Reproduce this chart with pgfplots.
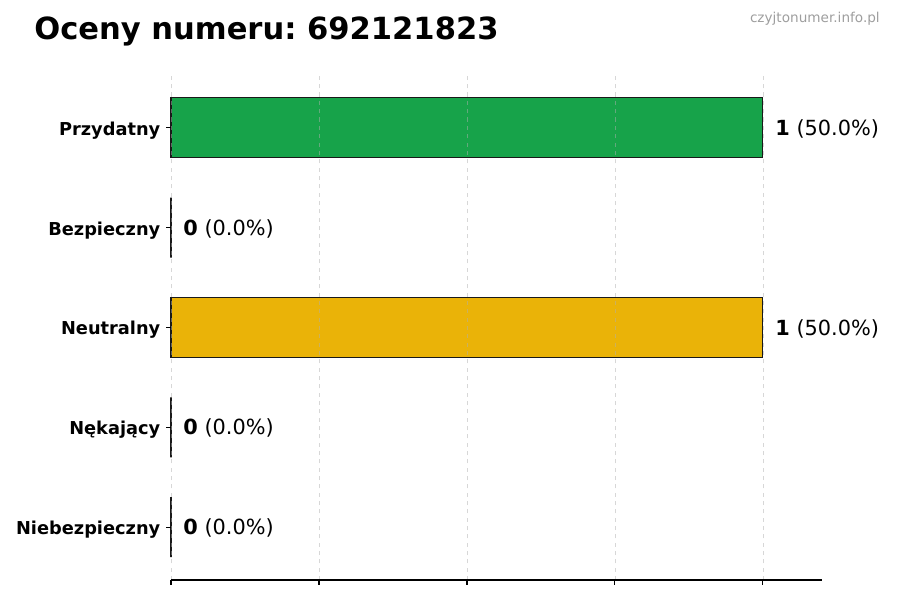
\documentclass[border=0pt]{standalone}
\usepackage{fontspec}
\setmainfont{DejaVu Sans}
\usepackage{pgfplots}
\pgfplotsset{compat=1.18}
\frenchspacing
\definecolor{cgreen}{RGB}{23,163,74}
\definecolor{cyellow}{RGB}{234,179,8}
\definecolor{cblue}{RGB}{59,130,246}
\definecolor{corange}{RGB}{249,115,22}
\definecolor{cred}{RGB}{220,38,38}
\definecolor{cgrid}{RGB}{176,176,176}
\begin{document}
\begin{tikzpicture}
\path[use as bounding box] (0pt,0pt) rectangle (648pt,432pt);
\begin{axis}[
  at={(123.1pt,14.4pt)}, anchor=south west,
  scale only axis, width=468.7pt, height=363.6pt,
  xbar, bar shift=0pt, bar width=43.2pt,
  xmin=0, xmax=1.0997, ymin=-0.53, ymax=4.53,
  xtick={0,0.25,0.5,0.75,1}, xticklabels={},
  ytick={0,1,2,3,4},
  yticklabels={Niebezpieczny,Nękający,Neutralny,Bezpieczny,Przydatny},
  yticklabel style={font=\bfseries\fontsize{12.8}{15}\selectfont, inner sep=0pt, xshift=-4pt, yshift=-1.8pt},
  axis x line*=bottom, axis y line*=left,
  y axis line style={draw=none},
  x axis line style={line width=0.8pt, -},
  tick align=outside, major tick length=3.5pt,
  every tick/.style={black, line width=0.8pt},
  xmajorgrids, major grid style={dashed, cgrid, opacity=0.5, line width=0.6pt},
  axis on top,
  point meta=explicit symbolic,
  nodes near coords,
  every node near coord/.append style={anchor=west, inner sep=0pt, xshift=8.6pt, yshift=-0.8pt, font=\fontsize{15}{18}\selectfont, black},
  clip=false,
]
\addplot[fill=cgreen, draw=black!90, line width=0.8pt] coordinates {(1,4) [\textbf{1} (50.0\%)]};
\addplot[fill=cblue, draw=black!90, line width=0.8pt] coordinates {(0,3) [\textbf{0} (0.0\%)]};
\addplot[fill=cyellow, draw=black!90, line width=0.8pt] coordinates {(1,2) [\textbf{1} (50.0\%)]};
\addplot[fill=corange, draw=black!90, line width=0.8pt] coordinates {(0,1) [\textbf{0} (0.0\%)]};
\addplot[fill=cred, draw=black!90, line width=0.8pt] coordinates {(0,0) [\textbf{0} (0.0\%)]};
\end{axis}
\node[anchor=base west, inner sep=0pt, font=\bfseries\fontsize{22}{26}\selectfont] at (24.5pt,403.2pt) {Oceny numeru: 692121823};
\node[anchor=base east, inner sep=0pt, text=black!38, font=\fontsize{9.8}{12}\selectfont] at (633.6pt,415.6pt) {czyjtonumer.info.pl};
\end{tikzpicture}
\end{document}
